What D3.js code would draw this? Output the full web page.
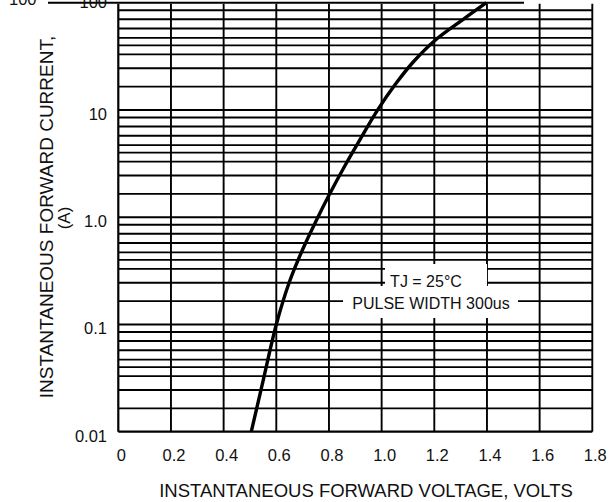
<!DOCTYPE html>
<html>
<head>
<meta charset="utf-8">
<script src="https://cdn.jsdelivr.net/npm/d3@7"></script>
<style>
  html, body { margin: 0; padding: 0; background: #fff; }
  svg { display: block; }
  text { font-family: "Liberation Sans", Arial, sans-serif; fill: #111; }
</style>
</head>
<body>
<svg id="chart" width="614" height="502"></svg>
<script>
// ---- data ----
const xTicks = [0, 0.2, 0.4, 0.6, 0.8, 1.0, 1.2, 1.4, 1.6, 1.8];
const xTickLabels = ["0", "0.2", "0.4", "0.6", "0.8", "1.0", "1.2", "1.4", "1.6", "1.8"];
const yDecades = [0.01, 0.1, 1, 10, 100];
const yTickLabels = ["0.01", "0.1", "1.0", "10", "100"];
// minor grid lines inside each decade (mantissas)
const minorMantissas = [1.65, 2.45, 3.3, 4.0, 4.7, 5.75, 7.0, 8.5];
// forward characteristic curve
const curveVolts = [0.505, 0.55, 0.60, 0.65, 0.70, 0.758, 0.80, 0.86, 0.92, 0.985, 1.057, 1.12, 1.20, 1.31, 1.398];
const curveAmps  = [0.01, 0.03, 0.10, 0.25, 0.50, 1.0, 1.6, 3.0, 5.4, 10, 18.0, 28.0, 44.0, 70, 100];
const xTitle = "INSTANTANEOUS FORWARD VOLTAGE, VOLTS";
const yTitle1 = "INSTANTANEOUS FORWARD CURRENT,";
const yTitle2 = "(A)";
const note1 = "TJ = 25°C";
const note2 = "PULSE WIDTH 300us";

// ---- layout ----
const svg = d3.select("#chart");
const x = d3.scaleLinear().domain([0, 1.8]).range([118.3, 592.3]);
const y = d3.scaleLog().domain([0.01, 100]).range([431.7, 2.7]);
const gridW = 1.9;

const g = svg.append("g");

// minor horizontal grid
const minorVals = [];
yDecades.slice(0, -1).forEach(d => minorMantissas.forEach(m => minorVals.push(d * m)));
g.selectAll("line.minor").data(minorVals).enter().append("line")
  .attr("x1", x(0)).attr("x2", x(1.8))
  .attr("y1", d => y(d)).attr("y2", d => y(d))
  .attr("stroke", "#000").attr("stroke-width", gridW);

// decade lines
g.selectAll("line.dec").data(yDecades).enter().append("line")
  .attr("x1", d => d === 100 ? 48 : x(0))
  .attr("x2", d => d === 100 ? 524 : x(1.8))
  .attr("y1", d => y(d)).attr("y2", d => y(d))
  .attr("stroke", "#000").attr("stroke-width", d => d === 0.01 ? 2.2 : gridW);

// vertical grid
g.selectAll("line.v").data(xTicks).enter().append("line")
  .attr("x1", d => x(d)).attr("x2", d => x(d))
  .attr("y1", y(100) + 1).attr("y2", y(0.01))
  .attr("stroke", "#000").attr("stroke-width", d => d === 0 ? 2.2 : gridW);

// annotation masks
g.append("rect").attr("x", 385).attr("y", 264).attr("width", 102).attr("height", 24).attr("fill", "#fff");
g.append("rect").attr("x", 343).attr("y", 286).attr("width", 175).attr("height", 32).attr("fill", "#fff");
g.append("text").attr("x", 426).attr("y", 286.5).attr("text-anchor", "middle")
  .style("font-size", "16px").text(note1);
g.append("text").attr("x", 431).attr("y", 308.5).attr("text-anchor", "middle")
  .style("font-size", "16px").text(note2);

// curve
const pts = curveVolts.map((v, i) => [v, curveAmps[i]]);
const line = d3.line().x(d => x(d[0])).y(d => y(d[1])).curve(d3.curveCatmullRom.alpha(0.5));
g.append("path").datum(pts).attr("d", line)
  .attr("fill", "none").attr("stroke", "#000").attr("stroke-width", 3.4)
  .attr("stroke-linecap", "butt");

// x tick labels
g.selectAll("text.xt").data(xTicks).enter().append("text")
  .attr("x", d => x(d) + 3).attr("y", 461)
  .attr("text-anchor", "middle").style("font-size", "16.5px")
  .text((d, i) => xTickLabels[i]);

// y tick labels
g.selectAll("text.yt").data(yDecades).enter().append("text")
  .attr("x", 107).attr("y", d => d === 100 ? 8 : y(d) + 10)
  .attr("text-anchor", "end").style("font-size", "16.5px")
  .text((d, i) => yTickLabels[i]);
// cropped duplicate label at the top-left edge
g.append("text").attr("x", 9).attr("y", 4.5).style("font-size", "16.5px").text(yTickLabels[4]);

// titles
g.append("text").attr("x", 366).attr("y", 497).attr("text-anchor", "middle")
  .style("font-size", "18.5px").text(xTitle);
g.append("text").attr("transform", "translate(52.5,217) rotate(-90)").attr("text-anchor", "middle")
  .style("font-size", "19px").text(yTitle1);
g.append("text").attr("transform", "translate(70,218) rotate(-90)").attr("text-anchor", "middle")
  .style("font-size", "17px").text(yTitle2);
</script>
</body>
</html>
